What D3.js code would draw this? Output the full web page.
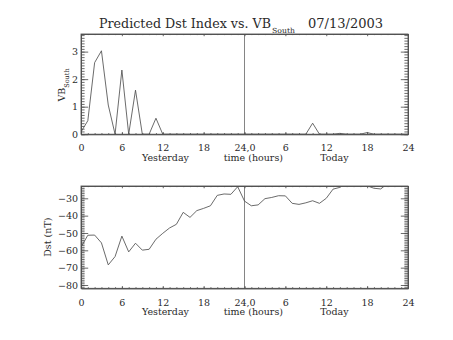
<!DOCTYPE html>
<html>
<head>
<meta charset="utf-8">
<script src="https://cdn.jsdelivr.net/npm/d3@7"></script>
<style>
  html, body { margin: 0; padding: 0; background: #fff; }
  svg { display: block; }
  text { font-family: "DejaVu Serif", serif; fill: #2a2a2a; }
</style>
</head>
<body>
<svg id="chart" width="453" height="340"></svg>
<script>
// Hourly values over two days: hours 0-23 are yesterday, 24-48 today
const hours = d3.range(0, 49);

// Southward IMF component (VB_South)
const vbSouth = [
  0.08, 0.49, 2.6, 3.03, 1.06, 0, 2.33, 0, 1.6, 0, 0, 0.58, 0,
  0, 0, 0, 0, 0, 0, 0, 0, 0, 0, 0, 0, 0, 0, 0, 0, 0, 0, 0, 0,
  0, 0.4, 0, 0, 0, 0.03, 0, 0, 0, 0.06, 0, 0, 0, 0, 0, 0
];

// Predicted Dst index (nT)
const dst = [
  -58.2, -51.3, -51.2, -55.7, -68.4, -63.6, -51.8, -60.9, -55.9, -59.9,
  -59.4, -53.6, -50.2, -47.1, -45.0, -38.1, -41.0, -37.1, -35.8, -34.3,
  -28.3, -27.5, -27.7, -23.3, -31.6, -34.3, -33.8, -30.2, -29.5, -28.5,
  -28.6, -32.9, -33.5, -32.6, -31.4, -32.9, -30.0, -24.7, -23.7, -21.0,
  -20.2, -20.6, -22.8, -24.2, -24.6, -21.5, -20.5, -20.8, -21.2
];

// Axis tick values and labels
const xMajorTicks = [0, 6, 12, 18, 24, 30, 36, 42, 48];
const xTickLabels = ["0", "6", "12", "18", "24,0", "6", "12", "18", "24"];
const vbTicks = [0, 1, 2, 3];
const dstTicks = [-80, -70, -60, -50, -40, -30];

const titleMain = "Predicted Dst Index vs. VB";
const titleSub = "South";
const titleDate = "07/13/2003";
const xTitleParts = ["Yesterday", "time (hours)", "Today"];
const dstTitle = "Dst (nT)";

const svg = d3.select("#chart");
const ink = "#505050";
const lw = 0.85;

const left = 81, right = 408;

const x = d3.scaleLinear().domain([0, 48]).range([left, right]);

function panel(id, top, bottom, yDomain, majors, minorStep, fmt) {
  const y = d3.scaleLinear().domain(yDomain).range([bottom, top]);
  const g = svg.append("g");
  const h = bottom - top;

  const minors = d3.range(Math.ceil(yDomain[0] / minorStep) * minorStep, yDomain[1] + 1e-9, minorStep)
    .map(v => Math.round(v * 1000) / 1000);
  const xMinors = d3.range(0, 49);

  const xMaj = 0.022 * h, xMin = xMaj / 2;
  const yMaj = 0.022 * (right - left), yMin = yMaj / 2;

  // x axes (bottom with labels, top without)
  g.append("g").attr("transform", `translate(0,${bottom})`)
    .call(d3.axisBottom(x).tickValues(xMinors).tickSize(-xMin).tickSizeOuter(0).tickFormat(""));
  g.append("g").attr("transform", `translate(0,${bottom})`)
    .call(d3.axisBottom(x).tickValues(xMajorTicks).tickSize(-xMaj).tickSizeOuter(0).tickPadding(10.5)
      .tickFormat((d, i) => xTickLabels[i]));
  g.append("g").attr("transform", `translate(0,${top})`)
    .call(d3.axisTop(x).tickValues(xMinors).tickSize(-xMin).tickSizeOuter(0).tickFormat(""));
  g.append("g").attr("transform", `translate(0,${top})`)
    .call(d3.axisTop(x).tickValues(xMajorTicks).tickSize(-xMaj).tickSizeOuter(0).tickFormat(""));

  // y axes (left with labels, right without)
  g.append("g").attr("transform", `translate(${left},0)`)
    .call(d3.axisLeft(y).tickValues(minors).tickSize(-yMin).tickSizeOuter(0).tickFormat(""));
  g.append("g").attr("transform", `translate(${left},0)`)
    .call(d3.axisLeft(y).tickValues(majors).tickSize(-yMaj).tickSizeOuter(0).tickPadding(3).tickFormat(fmt));
  g.append("g").attr("transform", `translate(${right},0)`)
    .call(d3.axisRight(y).tickValues(minors).tickSize(-yMin).tickSizeOuter(0).tickFormat(""));
  g.append("g").attr("transform", `translate(${right},0)`)
    .call(d3.axisRight(y).tickValues(majors).tickSize(-yMaj).tickSizeOuter(0).tickFormat(""));

  g.selectAll(".domain, .tick line").attr("stroke", ink).attr("stroke-width", lw);
  g.selectAll(".tick text").attr("font-family", "DejaVu Serif").attr("font-size", 9.5).attr("fill", "#2a2a2a");

  // closing box edges
  g.append("rect").attr("x", left).attr("y", top).attr("width", right - left).attr("height", h)
    .attr("fill", "none").attr("stroke", ink).attr("stroke-width", lw);

  // divider between yesterday and today
  g.append("line").attr("x1", x(24)).attr("x2", x(24)).attr("y1", top).attr("y2", bottom)
    .attr("stroke", ink).attr("stroke-width", 0.7);

  svg.append("clipPath").attr("id", id).append("rect")
    .attr("x", left).attr("y", top).attr("width", right - left).attr("height", h);

  // x title pieces positioned along the hour scale
  g.append("text").attr("y", bottom + 27).attr("font-size", 9.5).attr("x", x(12.4))
    .attr("text-anchor", "middle").text(xTitleParts[0]);
  g.append("text").attr("y", bottom + 27).attr("font-size", 9.5).attr("x", x(25.3))
    .attr("text-anchor", "middle").text(xTitleParts[1]);
  g.append("text").attr("y", bottom + 27).attr("font-size", 9.5).attr("x", x(37.2))
    .attr("text-anchor", "middle").text(xTitleParts[2]);

  return { g, y };
}

// Upper panel: VB_South
const p1 = panel("clipTop", 34, 134.2, [0, 3.64], vbTicks, 0.1, d => String(d));
p1.g.append("path")
  .datum(hours)
  .attr("clip-path", "url(#clipTop)")
  .attr("fill", "none").attr("stroke", ink).attr("stroke-width", lw)
  .attr("d", d3.line().x(h => x(h)).y(h => p1.y(vbSouth[h])));

// Lower panel: Dst
const p2 = panel("clipBot", 186, 288.3, [-81.9, -22.9], dstTicks, 1, d => "\u2212" + Math.abs(d));
p2.g.append("path")
  .datum(hours)
  .attr("clip-path", "url(#clipBot)")
  .attr("fill", "none").attr("stroke", ink).attr("stroke-width", lw)
  .attr("d", d3.line().x(h => x(h)).y(h => p2.y(dst[h])));

// Title with subscript
svg.append("text").attr("x", 99).attr("y", 27.5).attr("font-size", 12)
  .attr("textLength", 172).attr("lengthAdjust", "spacingAndGlyphs").text(titleMain);
svg.append("text").attr("x", 272).attr("y", 33).attr("font-size", 7)
  .attr("textLength", 23).attr("lengthAdjust", "spacingAndGlyphs").text(titleSub);
svg.append("text").attr("x", 308).attr("y", 27.5).attr("font-size", 12)
  .attr("textLength", 75).attr("lengthAdjust", "spacingAndGlyphs").text(titleDate);

// Y titles
const vbT = svg.append("text")
  .attr("transform", "translate(64.5,85) rotate(-90)")
  .attr("text-anchor", "middle").attr("font-size", 9.5);
vbT.append("tspan").text("VB");
vbT.append("tspan").attr("font-size", 6.5).attr("dy", 4).text("South");

svg.append("text")
  .attr("transform", `translate(51,${(186 + 288.3) / 2}) rotate(-90)`)
  .attr("text-anchor", "middle").attr("font-size", 9.5)
  .text(dstTitle);
</script>
</body>
</html>
